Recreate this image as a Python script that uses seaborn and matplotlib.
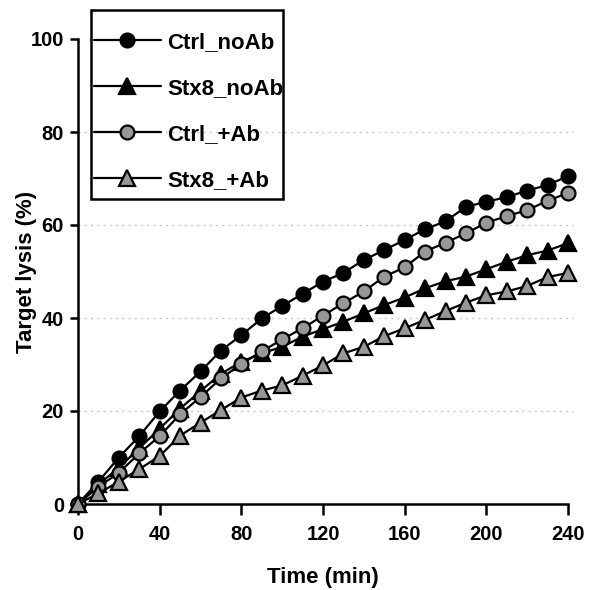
import numpy as np
import pandas as pd
import matplotlib
matplotlib.use("Agg")
import matplotlib.pyplot as plt
from matplotlib.patches import Rectangle
import seaborn as sns

# ---- data ----
time_min = [0, 10, 20, 30, 40, 50, 60, 70, 80, 90, 100, 110, 120,
            130, 140, 150, 160, 170, 180, 190, 200, 210, 220, 230, 240]
ctrl_noab = [0, 4.8, 10.0, 14.6, 19.9, 24.4, 28.5, 33.0, 36.3, 39.9, 42.6, 45.2, 47.8,
             49.7, 52.5, 54.6, 56.8, 59.1, 60.8, 63.9, 65.0, 66.0, 67.4, 68.6, 70.5]
stx8_noab = [0, 4.2, 7.8, 12.0, 16.2, 20.5, 24.3, 28.0, 30.6, 32.4, 33.8, 36.0, 37.6,
             39.2, 41.0, 42.8, 44.4, 46.4, 47.9, 48.9, 50.5, 52.1, 53.5, 54.5, 56.1]
ctrl_ab = [0, 3.7, 6.7, 10.9, 14.6, 19.3, 23.0, 27.0, 30.1, 32.8, 35.4, 37.8, 40.5,
           43.2, 45.7, 48.9, 50.9, 54.3, 56.2, 58.2, 60.5, 61.9, 63.2, 65.2, 66.9]
stx8_ab = [0, 2.3, 4.8, 7.5, 10.3, 14.7, 17.5, 20.2, 22.9, 24.4, 25.5, 27.6, 29.8,
           32.4, 33.8, 36.1, 37.8, 39.6, 41.5, 43.3, 44.9, 45.7, 46.9, 48.8, 49.7]
series_names = ["Ctrl_noAb", "Stx8_noAb", "Ctrl_+Ab", "Stx8_+Ab"]
series_values = [ctrl_noab, stx8_noab, ctrl_ab, stx8_ab]
series_markers = ["o", "^", "o", "^"]
series_fill = ["black", "black", "#979797", "#979797"]

x_ticks = [0, 40, 80, 120, 160, 200, 240]
y_ticks = [0, 20, 40, 60, 80, 100]
grid_levels = [20, 40, 60, 80]

df = pd.DataFrame({
    "Time": np.tile(time_min, len(series_names)),
    "Lysis": np.concatenate(series_values),
    "Series": np.repeat(series_names, len(time_min)),
})

sns.set_theme(style="ticks")
plt.rcParams["font.family"] = ["Liberation Sans", "DejaVu Sans"]
plt.rcParams["font.weight"] = "bold"
plt.rcParams["text.color"] = "black"
plt.rcParams["axes.labelcolor"] = "black"
plt.rcParams["xtick.color"] = "black"
plt.rcParams["ytick.color"] = "black"
plt.rcParams["xtick.labelcolor"] = "black"
plt.rcParams["ytick.labelcolor"] = "black"

fig = plt.figure(figsize=(5.9, 5.9), dpi=100)
ax = fig.add_axes([78 / 590, 1 - 504 / 590, 490 / 590, 465 / 590])

for lvl in grid_levels:
    ax.axhline(lvl, color="#c8c8c8", lw=1.0, ls=(0, (1.5, 3)), zorder=0,
               xmax=1.01, clip_on=False)

for name, mk, fc in zip(series_names, series_markers, series_fill):
    sub = df[df["Series"] == name]
    sns.lineplot(data=sub, x="Time", y="Lysis", ax=ax, color="black", lw=1.6,
                 marker=mk, markersize=10 if mk == "o" else 11,
                 markerfacecolor=fc, markeredgecolor="black", markeredgewidth=1.6,
                 label=name, clip_on=False, zorder=3)

ax.set_xlim(0, 240)
ax.set_ylim(0, 100)
ax.set_xticks(x_ticks)
ax.set_yticks(y_ticks)
ax.tick_params(axis="both", direction="out", length=6, width=1.8, labelsize=14.5,
               color="black", labelcolor="black", pad=4)
ax.tick_params(axis="x", length=8, pad=7)
for lab in ax.get_xticklabels() + ax.get_yticklabels():
    lab.set_fontweight("bold")
sns.despine(ax=ax)
for sp in ["left", "bottom"]:
    ax.spines[sp].set_linewidth(1.8)
    ax.spines[sp].set_color("black")

ax.set_xlabel("Time (min)", fontsize=16, fontweight="bold", color="black")
ax.xaxis.set_label_coords(0.5, -(578 - 504) / 465)
ax.xaxis.label.set_va("center")
ax.set_ylabel("Target lysis (%)", fontsize=16, fontweight="bold", color="black")
ax.yaxis.set_label_coords(-(78 - 27) / 490, 0.5)
ax.yaxis.label.set_va("center")

leg = ax.legend(loc="upper left", bbox_to_anchor=(16 / 490, (504 - 32) / 465),
                borderaxespad=0, frameon=False, fontsize=16,
                handlelength=3.0, handletextpad=0.3, labelspacing=1.12,
                borderpad=0.0)
for t in leg.get_texts():
    t.set_fontweight("bold")
    t.set_color("black")

fig.patches.append(Rectangle((91 / 590, 1 - 199 / 590), 192 / 590, 189 / 590,
                             transform=fig.transFigure, fill=False,
                             edgecolor="black", linewidth=1.8, zorder=5))

fig.savefig("out.png", dpi=100)
